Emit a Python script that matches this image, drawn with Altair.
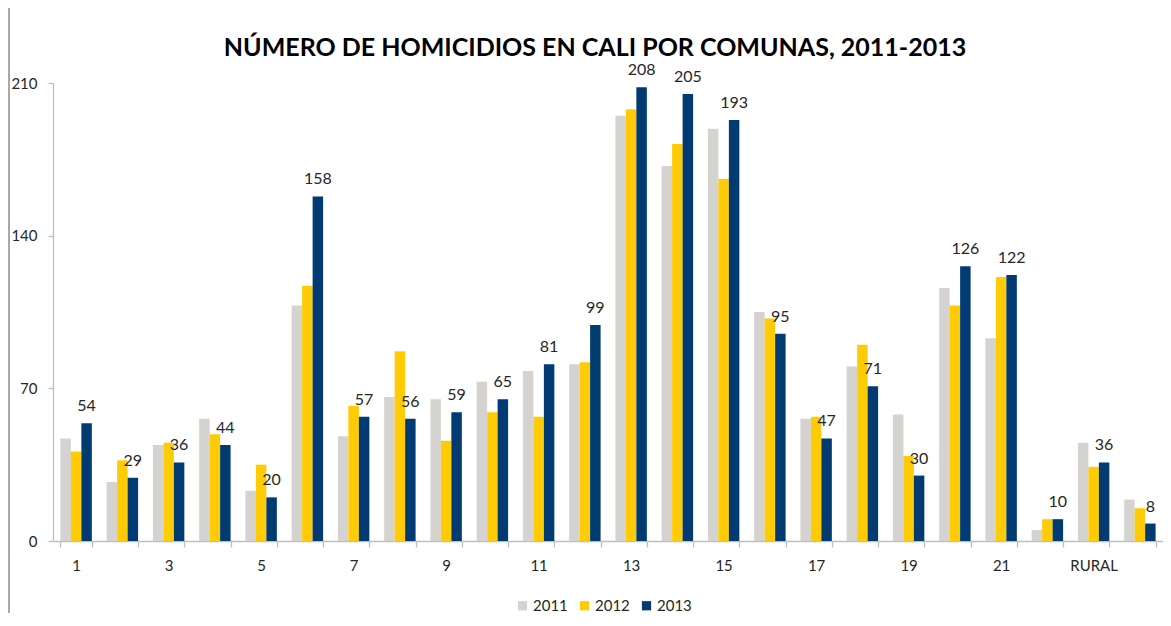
import json
import altair as alt
import pandas as pd

comunas = [str(i) for i in range(1, 23)] + ["RURAL", "SIN INFORMACIÓN"]
shown_labels = ["1", "3", "5", "7", "9", "11", "13", "15", "17", "19", "21", "RURAL"]
years = ["2011", "2012", "2013"]
v2011 = [47, 27, 44, 56, 23, 108, 48, 66, 65, 73, 78, 81, 195, 172, 189, 105, 56, 80, 58, 116, 93, 5, 45, 19]
v2012 = [41, 37, 45, 49, 35, 117, 62, 87, 46, 59, 57, 82, 198, 182, 166, 102, 57, 90, 39, 108, 121, 10, 34, 15]
v2013 = [54, 29, 36, 44, 20, 158, 57, 56, 59, 65, 81, 99, 208, 205, 193, 95, 47, 71, 30, 126, 122, 10, 36, 8]
colors = ["#D5D3CF", "#FFCB05", "#013B72"]
y_ticks = [0, 70, 140, 210]

rows = []
for yr, vals in zip(years, [v2011, v2012, v2013]):
    for c, v in zip(comunas, vals):
        rows.append({"comuna": c, "year": yr, "value": v})
df = pd.DataFrame(rows)

FONT = "Lato"
label_expr = "indexof(" + json.dumps(shown_labels) + ", datum.value) >= 0 ? datum.label : ''"

x_enc = alt.X(
    "comuna:N",
    sort=comunas,
    scale=alt.Scale(domain=comunas, paddingInner=0.32, paddingOuter=0.16),
    axis=alt.Axis(
        title=None, labelAngle=0, tickBand="extent", labelExpr=label_expr,
        tickSize=6, labelPadding=11, labelFontSize=15, grid=False,
    ),
)
xoff_enc = alt.XOffset("year:N", sort=years, scale=alt.Scale(domain=years, paddingInner=0, paddingOuter=0))
y_enc = alt.Y(
    "value:Q",
    scale=alt.Scale(domain=[0, 210], nice=False),
    axis=alt.Axis(title=None, values=y_ticks, grid=False, tickSize=5, labelPadding=11, labelFontSize=15),
)

base = alt.Chart(df)
bars = base.mark_bar().encode(
    x=x_enc,
    xOffset=xoff_enc,
    y=y_enc,
    color=alt.Color(
        "year:N",
        scale=alt.Scale(domain=years, range=colors),
        legend=alt.Legend(
            title=None, orient="none", legendX=462, legendY=515, direction="horizontal",
            symbolType="square", symbolSize=85, symbolStrokeWidth=0, labelFontSize=15,
            labelOffset=3, columnPadding=9, labelFont=FONT, labelColor="#262626",
        ),
    ),
)
labels = base.transform_filter(alt.datum.year == "2013").mark_text(
    dy=-17, fontSize=16, font=FONT, color="#262626", baseline="middle"
).encode(x=x_enc, xOffset=xoff_enc, y=y_enc, text="value:Q")

frame = alt.Chart(pd.DataFrame({"a": [0]})).mark_rule(color="#8C8C8C", strokeWidth=1.5).encode(
    x=alt.value(-44), y=alt.value(-75), y2=alt.value(530)
)

chart = alt.layer(bars, labels, frame).properties(
    width=1110,
    height=458,
    autosize=alt.AutoSizeParams(type="none"),
    padding={"left": 45, "top": 75, "right": 0, "bottom": 72},
    title=alt.Title(
        "NÚMERO DE HOMICIDIOS EN CALI POR COMUNAS, 2011-2013",
        fontSize=25, font=FONT, fontWeight="bold", color="#000000",
        anchor="middle", offset=-54, dx=-13,
    ),
).configure_view(stroke=None).configure_axis(
    domainColor="#BFBFBF", tickColor="#BFBFBF", labelColor="#262626", labelFont=FONT,
    domainWidth=1.3, tickWidth=1.3,
)

chart.save("out.html", embed_options={"renderer": "svg", "actions": False})
